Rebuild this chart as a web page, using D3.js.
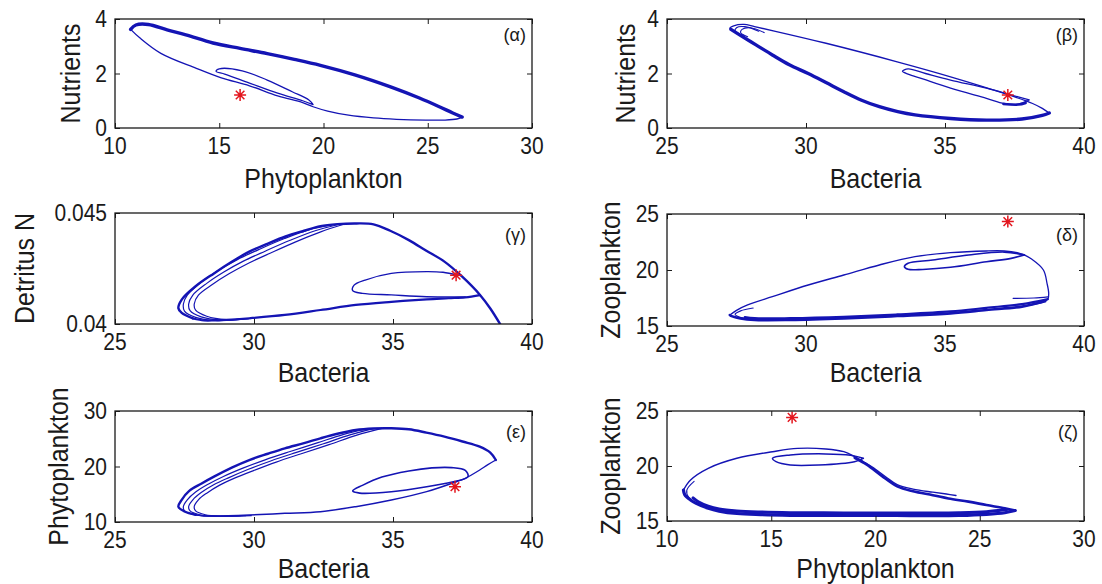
<!DOCTYPE html>
<html><head><meta charset="utf-8">
<script src="https://cdn.jsdelivr.net/npm/d3@7"></script>
<style>
body{margin:0;background:#fff}
svg{display:block}
text{font-family:"Liberation Sans",Arial,Helvetica,sans-serif;fill:#1a1a1a}
</style>
</head><body><script>
// ---------- tick labels ----------
const ticksPhyto = [10, 15, 20, 25, 30];
const ticksBact = [25, 30, 35, 40];
const ticksNut = [0, 2, 4];
const ticksDet = [0.04, 0.045];
const ticksZoo = [15, 20, 25];
const ticksPhytoY = [10, 20, 30];

// ---------- (α) Phytoplankton vs Nutrients ----------
const alphaUpper = [[10.75,3.62],[11.0,3.78],[11.6,3.8],[12.5,3.6],[13.4,3.42],[14.7,3.12],[16.0,2.92],[17.3,2.73],[18.6,2.52],[19.85,2.3],[21.5,1.95],[23.25,1.5],[24.6,1.1],[25.5,0.8],[26.2,0.55],[26.65,0.4]];
const alphaLower = [[26.65,0.4],[26.4,0.33],[25.8,0.29],[24.9,0.29],[23.5,0.32],[22.4,0.37],[21.2,0.47],[20.2,0.62],[19.5,0.78],[19.0,0.93],[17.8,1.18],[16.45,1.55],[15.1,1.84],[13.9,2.19],[12.2,2.74],[11.2,3.3],[10.75,3.62]];
const alphaInner = [[19.5,0.86],[19.3,1.03],[18.5,1.33],[17.3,1.76],[16.1,2.1],[15.0,2.17],[14.85,2.08],[15.26,1.98],[16.45,1.65],[17.8,1.28],[19.0,1.0],[19.5,0.86]];
const alphaStar = [16.0, 1.21];

// ---------- (β) Bacteria vs Nutrients ----------
const betaLower = [[27.3,3.62],[27.64,3.4],[28.2,3.05],[28.79,2.68],[29.4,2.32],[30.08,2.0],[30.7,1.68],[31.36,1.33],[32.0,1.02],[32.64,0.78],[33.3,0.6],[33.92,0.48],[35.2,0.35],[36.49,0.29],[37.77,0.33],[38.5,0.46],[38.75,0.55]];
const betaUpper = [[38.75,0.55],[38.5,0.72],[38.15,0.9],[37.13,1.27],[35.2,1.88],[33.28,2.43],[30.72,3.11],[28.9,3.55],[28.15,3.72],[27.77,3.8],[27.4,3.75],[27.26,3.66],[27.3,3.62]];
const betaNest1 = [[28.3,3.55],[27.8,3.72],[27.5,3.68],[27.45,3.55],[27.75,3.4]];
const betaNest2 = [[28.5,3.5],[28.0,3.68],[27.7,3.62],[27.65,3.5],[27.9,3.35]];
const betaInner = [[38.03,1.03],[37.64,0.88],[37.13,0.9],[36.49,1.09],[35.2,1.46],[34.2,1.8],[33.67,1.98],[33.47,2.08],[33.67,2.17],[34.3,2.0],[35.2,1.76],[36.49,1.46],[37.39,1.21],[38.03,1.03]];
const betaHook = [[37.1,0.88],[37.64,0.86],[37.9,0.92]];
const betaStar = [37.26, 1.21];

// ---------- (γ) Bacteria vs Detritus N ----------
const gammaArc = [[27.8,0.04025],[27.4,0.0405],[27.28,0.04071],[27.4,0.0411],[27.9,0.0417],[28.56,0.04228],[29.2,0.0428],[29.83,0.04326],[30.5,0.04362],[31.11,0.04393],[31.8,0.0442],[32.39,0.04441],[33.0,0.0445],[33.66,0.04453],[34.3,0.04449],[34.9,0.0442],[35.57,0.04378],[36.2,0.0433],[36.85,0.04281],[37.49,0.04213],[38.13,0.04131],[38.5,0.0407],[38.9,0.0399]];
const gammaNest1 = [[29.6,0.04022],[28.6,0.04016],[27.9,0.0403],[27.5,0.04058],[27.46,0.0409],[27.6,0.0413],[28.1,0.04188],[28.7,0.0424],[29.4,0.0429],[30.2,0.04337],[31.1,0.04385],[32.0,0.04425],[32.8,0.04446]];
const gammaNest2 = [[29.8,0.04024],[28.8,0.04018],[28.1,0.04032],[27.7,0.0406],[27.65,0.0409],[27.8,0.0413],[28.3,0.04183],[28.9,0.04233],[29.6,0.04282],[30.4,0.04328],[31.3,0.04377],[32.2,0.0442],[33.0,0.04447]];
const gammaNest3 = [[30.0,0.04026],[29.0,0.0402],[28.3,0.04035],[27.9,0.04062],[27.85,0.0409],[28.0,0.0413],[28.5,0.04178],[29.1,0.04226],[29.8,0.04274],[30.6,0.0432],[31.5,0.0437],[32.4,0.04415],[33.2,0.04448]];
const gammaBottom = [[27.8,0.04025],[28.2,0.04016],[28.56,0.04016],[29.2,0.0402],[29.83,0.04026],[31.11,0.04041],[32.39,0.04063],[33.66,0.04086],[34.94,0.041],[36.21,0.04111],[37.0,0.04116],[37.6,0.0412],[38.13,0.0413]];
const gammaInner = [[37.6,0.04122],[36.21,0.04123],[34.94,0.04131],[33.9,0.04138],[33.55,0.0415],[33.6,0.04175],[34.0,0.04198],[34.94,0.04228],[36.21,0.04236],[36.8,0.04233],[37.3,0.0422]];
const gammaStar = [37.27, 0.0422];

// ---------- (δ) Bacteria vs Zooplankton ----------
const deltaUpper = [[27.26,15.98],[27.5,16.4],[27.9,16.88],[28.79,17.62],[30.08,18.66],[31.36,19.55],[32.64,20.45],[33.92,21.19],[35.2,21.55],[36.49,21.7],[37.13,21.7],[37.6,21.55],[37.85,21.35]];
const deltaInner = [[37.85,21.35],[37.38,21.04],[36.49,20.74],[35.2,20.24],[34.2,20.05],[33.67,20.06],[33.54,20.3],[33.67,20.6],[34.56,20.89],[35.85,21.34],[37.13,21.6],[37.85,21.35]];
const deltaRight = [[37.85,21.35],[38.1,21.0],[38.54,20.0],[38.67,18.81],[38.73,17.92],[38.7,17.4],[38.5,17.1],[38.0,16.85],[37.77,16.73]];
const deltaStub = [[38.7,17.6],[38.2,17.5],[37.45,17.47]];
const deltaBottom = [[38.6,17.2],[37.77,16.73],[36.49,16.43],[35.2,16.13],[33.28,15.89],[31.36,15.68],[29.44,15.54],[28.15,15.54],[27.64,15.68],[27.3,15.9],[27.26,15.98]];
const deltaBottom2 = [[38.7,17.4],[37.77,16.95],[36.49,16.62],[35.2,16.3],[33.28,16.03],[31.36,15.82],[29.44,15.7],[28.15,15.7],[27.8,15.8]];
const deltaNest = [[28.0,15.65],[27.6,15.8],[27.45,16.05],[27.65,16.35],[28.1,16.6]];
const deltaStar = [37.26, 24.32];

// ---------- (ε) Bacteria vs Phytoplankton ----------
const epsArc = [[27.9,11.3],[27.5,11.9],[27.28,12.76],[27.4,14.0],[27.67,15.6],[28.1,16.9],[28.56,18.17],[29.2,19.8],[29.83,21.17],[30.5,22.3],[31.11,23.27],[31.8,24.2],[32.39,25.08],[33.0,25.9],[33.66,26.58],[34.3,26.85],[34.94,26.88],[35.57,26.7],[36.2,26.1],[36.85,25.38],[37.5,24.5],[38.12,23.57],[38.5,22.5],[38.7,21.17]];
const epsNest1 = [[29.5,11.15],[28.4,11.05],[27.85,11.3],[27.5,12.0],[27.46,12.8],[27.6,14.0],[27.9,15.4],[28.35,16.8],[28.9,18.2],[29.6,19.7],[30.4,21.2],[31.3,22.7],[32.3,24.3],[33.2,25.75],[34.0,26.72]];
const epsNest2 = [[29.7,11.15],[28.6,11.05],[28.05,11.3],[27.7,12.0],[27.65,12.8],[27.8,14.0],[28.1,15.3],[28.55,16.7],[29.1,18.0],[29.8,19.5],[30.6,21.0],[31.5,22.5],[32.5,24.1],[33.45,25.7],[34.3,26.82]];
const epsNest3 = [[29.9,11.15],[28.8,11.05],[28.25,11.3],[27.9,12.0],[27.85,12.8],[28.0,14.0],[28.3,15.2],[28.75,16.6],[29.3,17.9],[30.0,19.3],[30.8,20.8],[31.7,22.3],[32.7,23.95],[33.7,25.65],[34.6,26.86]];
const epsDown = [[38.7,21.17],[38.4,20.3],[38.12,19.37],[37.6,17.87],[37.3,17.3]];
const epsInner = [[37.3,17.4],[37.7,18.2],[37.6,19.3],[37.1,19.8],[36.4,19.75],[35.57,19.2],[34.6,18.1],[33.9,16.6],[33.55,15.6],[33.8,15.2],[34.94,15.45],[36.21,16.35],[37.3,17.4]];
const epsBottom = [[37.3,17.3],[36.21,15.47],[34.94,13.96],[33.66,12.76],[32.39,11.86],[31.11,11.56],[29.83,11.26],[28.56,11.08],[28.2,11.1],[27.9,11.3]];
const epsStar = [37.23, 16.37];

// ---------- (ζ) Phytoplankton vs Zooplankton ----------
const zetaArc = [[10.79,17.82],[11.13,18.73],[11.98,19.79],[13.35,20.7],[15.06,21.3],[16.26,21.6],[17.62,21.55],[18.48,21.3],[19.0,20.85],[19.5,20.3],[20.0,19.7],[20.5,19.0],[21.04,18.3],[21.8,17.9],[22.75,17.62],[23.4,17.45],[23.86,17.32]];
const zetaDesc = [[19.0,20.75],[19.6,20.1],[20.3,19.1],[21.04,18.15],[21.8,17.7],[22.75,17.35],[23.5,17.05],[24.46,16.76],[25.32,16.45],[26.2,16.15],[26.7,15.95]];
const zetaBottom = [[26.7,15.95],[26.2,15.75],[25.32,15.6],[24.0,15.5],[22.75,15.48],[21.0,15.5],[19.33,15.5],[17.5,15.5],[15.91,15.52],[14.5,15.58],[13.35,15.68],[12.5,15.9],[11.98,16.15],[11.4,16.6],[11.13,16.91],[10.85,17.4],[10.79,17.82]];
const zetaBottom2 = [[26.3,16.05],[25.32,15.85],[24.0,15.75],[22.75,15.72],[21.0,15.72],[19.33,15.72],[17.5,15.74],[15.91,15.76],[14.5,15.82],[13.35,15.92],[12.5,16.1],[11.98,16.35],[11.5,16.75],[11.25,17.1]];
const zetaInner = [[19.42,20.7],[18.99,20.39],[17.28,20.09],[15.91,20.09],[15.23,20.39],[15.06,20.7],[15.91,21.0],[17.6,21.1],[18.8,20.98],[19.42,20.7]];
const zetaNest = [[11.5,16.5],[11.05,17.1],[10.95,17.8],[11.3,18.6]];
const zetaStar = [16.0, 24.42];

// ---------- layout ----------
const W = 1102, H = 584;
const LINE = '#1414b4', STAR = '#e3161e', AXIS = '#1a1a1a';
const L = {l:115, r:532}, R = {l:667, r:1084};
const panels = [
  {tag:'(α)', xLabel:'Phytoplankton', yLabel:'Nutrients', xd:[10,30], yd:[0,4], xt:ticksPhyto, yt:ticksNut,
   box:{...L, t:19, b:128}, xLabY:188, yLabX:80, tagDy:22,
   strokes:[[alphaUpper,3.4],[alphaLower,1.3],[alphaInner,1.3]], star:alphaStar},
  {tag:'(β)', xLabel:'Bacteria', yLabel:'Nutrients', xd:[25,40], yd:[0,4], xt:ticksBact, yt:ticksNut,
   box:{...R, t:19, b:128}, xLabY:188, yLabX:635, tagDy:22,
   strokes:[[betaLower,3.4],[betaUpper,1.3],[betaNest1,1.1],[betaNest2,1.1],[betaInner,1.3],[betaHook,2.6]], star:betaStar},
  {tag:'(γ)', xLabel:'Bacteria', yLabel:'Detritus N', xd:[25,40], yd:[0.04,0.045], xt:ticksBact, yt:ticksDet,
   box:{...L, t:213, b:324}, xLabY:382, yLabX:34, tagDy:28,
   strokes:[[gammaArc,2.4],[gammaNest1,1.2],[gammaNest2,1.2],[gammaNest3,1.2],[gammaBottom,2.2],[gammaInner,1.4]], star:gammaStar},
  {tag:'(δ)', xLabel:'Bacteria', yLabel:'Zooplankton', xd:[25,40], yd:[15,25], xt:ticksBact, yt:ticksZoo,
   box:{...R, t:214, b:326}, xLabY:382, yLabX:620, tagDy:27,
   strokes:[[deltaUpper,1.4],[deltaInner,1.6],[deltaRight,1.3],[deltaStub,1.2],[deltaBottom,2.6],[deltaBottom2,2.2],[deltaNest,1.1]], star:deltaStar},
  {tag:'(ε)', xLabel:'Bacteria', yLabel:'Phytoplankton', xd:[25,40], yd:[10,30], xt:ticksBact, yt:ticksPhytoY,
   box:{...L, t:411, b:522}, xLabY:578, yLabX:68, tagDy:27,
   strokes:[[epsArc,2.4],[epsNest1,1.2],[epsNest2,1.2],[epsNest3,1.2],[epsDown,1.3],[epsInner,1.6],[epsBottom,1.5]], star:epsStar},
  {tag:'(ζ)', xLabel:'Phytoplankton', yLabel:'Zooplankton', xd:[10,30], yd:[15,25], xt:ticksPhyto, yt:ticksZoo,
   box:{...R, t:411, b:521}, xLabY:578, yLabX:620, tagDy:27,
   strokes:[[zetaArc,1.4],[zetaDesc,2.6],[zetaBottom,3.2],[zetaBottom2,3.0],[zetaInner,1.5],[zetaNest,1.1]], star:zetaStar}
];

const svg = d3.select('body').append('svg').attr('width', W).attr('height', H);
svg.append('rect').attr('width', W).attr('height', H).attr('fill', '#fff');

function stext(g, x, y, str, size, anchor, rot, dy) {
  return g.append('text')
    .attr('transform', `translate(${x},${y})` + (rot ? ` rotate(${rot})` : '') + ' scale(1,1.1)')
    .attr('font-size', size).attr('text-anchor', anchor)
    .attr('dy', dy || 0).text(str);
}

panels.forEach((p, i) => {
  const b = p.box;
  const x = d3.scaleLinear().domain(p.xd).range([b.l, b.r]);
  const y = d3.scaleLinear().domain(p.yd).range([b.b, b.t]);
  const g = svg.append('g');
  const cid = 'clip' + i;
  svg.append('clipPath').attr('id', cid).append('rect')
    .attr('x', b.l).attr('y', b.t).attr('width', b.r - b.l).attr('height', b.b - b.t);

  const line = d3.line().x(d => x(d[0])).y(d => y(d[1])).curve(d3.curveCatmullRom.alpha(0.5));
  const lg = g.append('g').attr('clip-path', `url(#${cid})`);
  p.strokes.forEach(([data, w]) => {
    lg.append('path').attr('d', line(data)).attr('fill', 'none')
      .attr('stroke', LINE).attr('stroke-width', w)
      .attr('stroke-linejoin', 'round').attr('stroke-linecap', 'round');
  });

  // star marker
  const sx = x(p.star[0]), sy = y(p.star[1]), s = 6, k = 4.3;
  g.append('path')
    .attr('d', `M${sx-s},${sy}H${sx+s}M${sx},${sy-s}V${sy+s}M${sx-k},${sy-k}L${sx+k},${sy+k}M${sx-k},${sy+k}L${sx+k},${sy-k}`)
    .attr('stroke', STAR).attr('stroke-width', 1.5).attr('fill', 'none');

  // axes (ticks inward on all four sides)
  const tk = 5;
  const mk = (axis, tx, ty) => {
    const a = g.append('g').attr('transform', `translate(${tx},${ty})`).call(axis);
    a.select('.domain').remove();
    a.selectAll('line').attr('stroke', AXIS).attr('stroke-width', 1);
    a.selectAll('text').remove();
  };
  mk(d3.axisBottom(x).tickValues(p.xt).tickSize(-tk), 0, b.b);
  mk(d3.axisTop(x).tickValues(p.xt).tickSize(-tk), 0, b.t);
  mk(d3.axisLeft(y).tickValues(p.yt).tickSize(-tk), b.l, 0);
  mk(d3.axisRight(y).tickValues(p.yt).tickSize(-tk), b.r, 0);

  g.append('rect').attr('x', b.l).attr('y', b.t).attr('width', b.r - b.l).attr('height', b.b - b.t)
    .attr('fill', 'none').attr('stroke', AXIS).attr('stroke-width', 1.3);

  // tick labels
  p.xt.forEach(v => stext(g, x(v), b.b + 10, String(v), 21, 'middle', 0, '0.71em'));
  p.yt.forEach(v => stext(g, b.l - 8, y(v), String(v), 21, 'end', 0, '0.35em'));

  // axis labels
  stext(g, (b.l + b.r) / 2, p.xLabY, p.xLabel, 25, 'middle', 0);
  stext(g, p.yLabX, (b.t + b.b) / 2, p.yLabel, 25, 'middle', -90);

  // panel tag
  g.append('text').attr('x', b.r - 6).attr('y', b.t + p.tagDy)
    .attr('font-size', 18).attr('text-anchor', 'end').text(p.tag);
});
</script></body></html>
